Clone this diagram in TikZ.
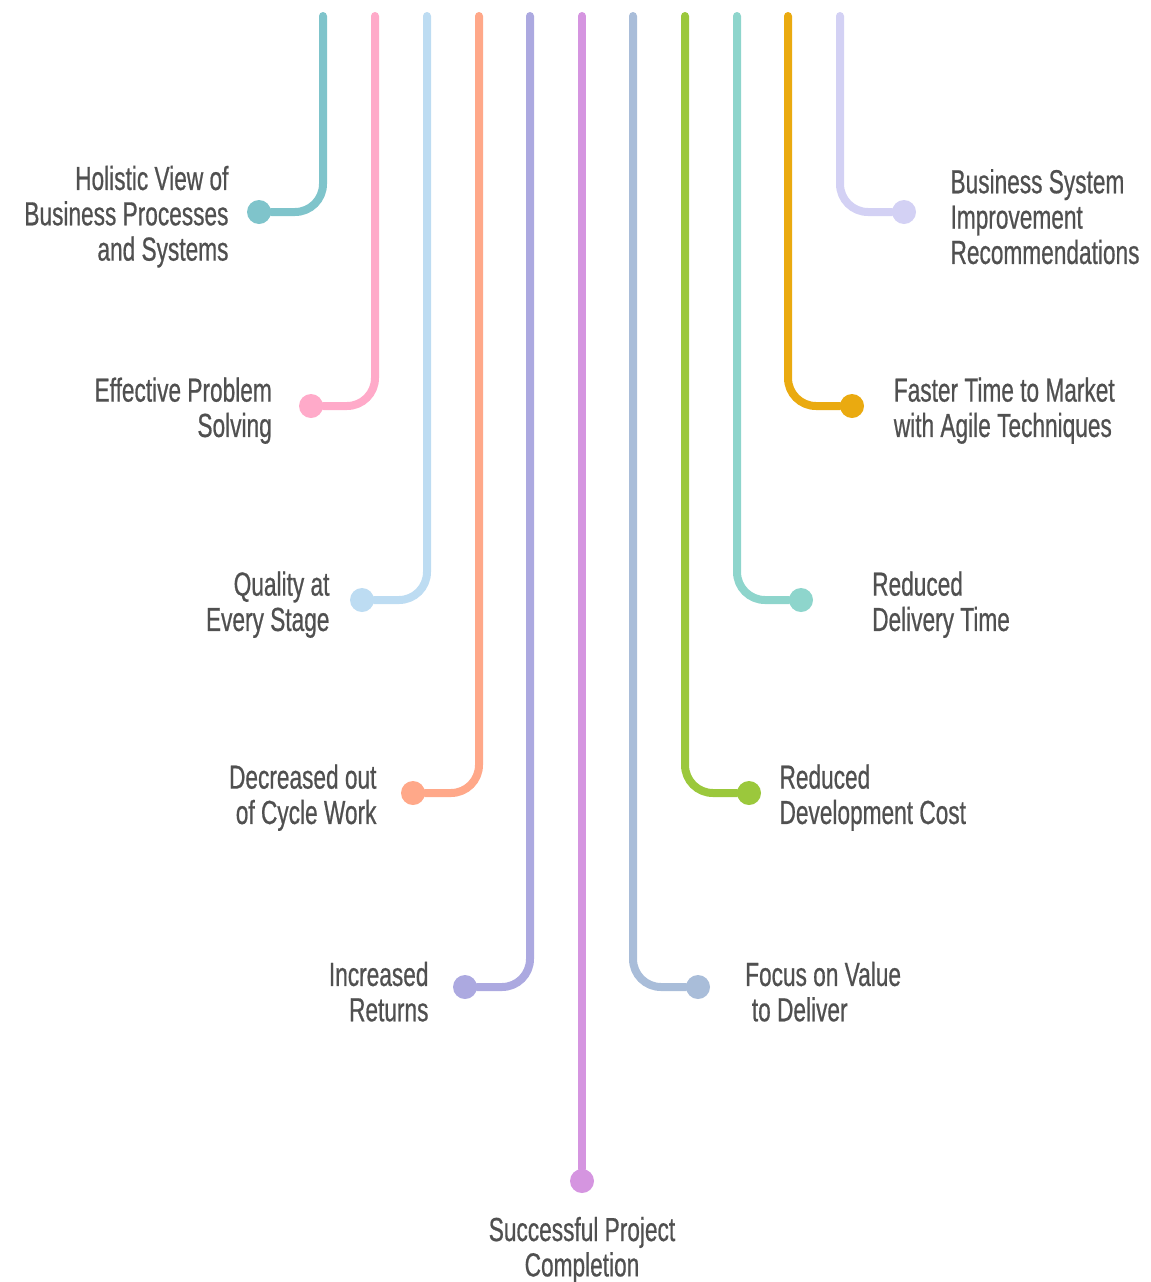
\documentclass[tikz,border=0pt]{standalone}
\usepackage{fontspec}
\setmainfont[FakeStretch=0.68, FakeBold=0.6]{Liberation Sans}
\usetikzlibrary{positioning}

\definecolor{c1}{HTML}{7FC4CB}
\definecolor{c2}{HTML}{FFAAC9}
\definecolor{c3}{HTML}{BDDCF2}
\definecolor{c4}{HTML}{FFA889}
\definecolor{c5}{HTML}{ACA9E0}
\definecolor{c6}{HTML}{D595E0}
\definecolor{c7}{HTML}{A9BDD9}
\definecolor{c8}{HTML}{9BC83C}
\definecolor{c9}{HTML}{8ED5CC}
\definecolor{c10}{HTML}{EAAA10}
\definecolor{c11}{HTML}{D3D1F4}
\definecolor{txt}{HTML}{505050}

\begin{document}
\begin{tikzpicture}[
  x=0.75pt, y=-0.75pt,
  stem/.style   = {line width=6pt, line cap=round, rounded corners=21pt},
  dot/.style    = {circle, inner sep=0pt, minimum size=18pt},
  lbl/.style    = {text=txt, font=\fontsize{25}{26.5}\selectfont, inner sep=0pt, yshift=-3.5pt},
  lleft/.style  = {lbl, align=right},
  lright/.style = {lbl, align=left},
  lmid/.style   = {lbl, align=center}]

	\useasboundingbox (0,0) rectangle (1150,1282);

	% stems with their end dots, left and right of the middle one
	\foreach \i/\xs/\xd/\yd in {1/323/259/212, 2/375/311/406, 3/427/362/600,
	    4/479/413/793, 5/530/465/987, 7/633/698/987, 8/685/749/793,
	    9/737/801/600, 10/788/852/406, 11/840/904/212} {
	  \coordinate (t\i) at (\xs,16);
	  \node[dot, fill=c\i] (d\i) at (\xd,\yd) {};
	  \draw[stem, draw=c\i] (t\i) |- (d\i);
	}

	% the middle stem goes straight down
	\coordinate (t6) at (582,16);
	\node[dot, fill=c6] (d6) at (582,1181) {};
	\draw[stem, draw=c6] (t6) -- (d6);

	% labels on the left
	\node[lleft, left=13.5pt of d1] (l1) {Holistic View of\\Business Processes\\and Systems};
	\node[lleft, left=20pt of d2] (l2) {Effective Problem\\Solving};
	\node[lleft, left=15pt of d3] (l3) {Quality at\\Every Stage};
	\node[lleft, left=18pt of d4] (l4) {Decreased out\\of Cycle Work};
	\node[lleft, left=18pt of d5] (l5) {Increased\\Returns};

	% labels on the right
	\node[lright, right=26pt of d7] (l7) {Focus on Value\\\hspace*{5pt}to Deliver};
	\node[lright, right=13.5pt of d8] (l8) {Reduced\\Development Cost};
	\node[lright, right=44pt of d9] (l9) {Reduced\\Delivery Time};
	\node[lright, right=22pt of d10] (l10) {Faster Time to Market\\with Agile Techniques};
	\node[lright, right=25.5pt of d11] (l11) {Business System\\Improvement\\Recommendations};

	% label under the middle stem
	\node[lmid, below=14pt of d6] (l6) {Successful Project\\Completion};
\end{tikzpicture}
\end{document}
